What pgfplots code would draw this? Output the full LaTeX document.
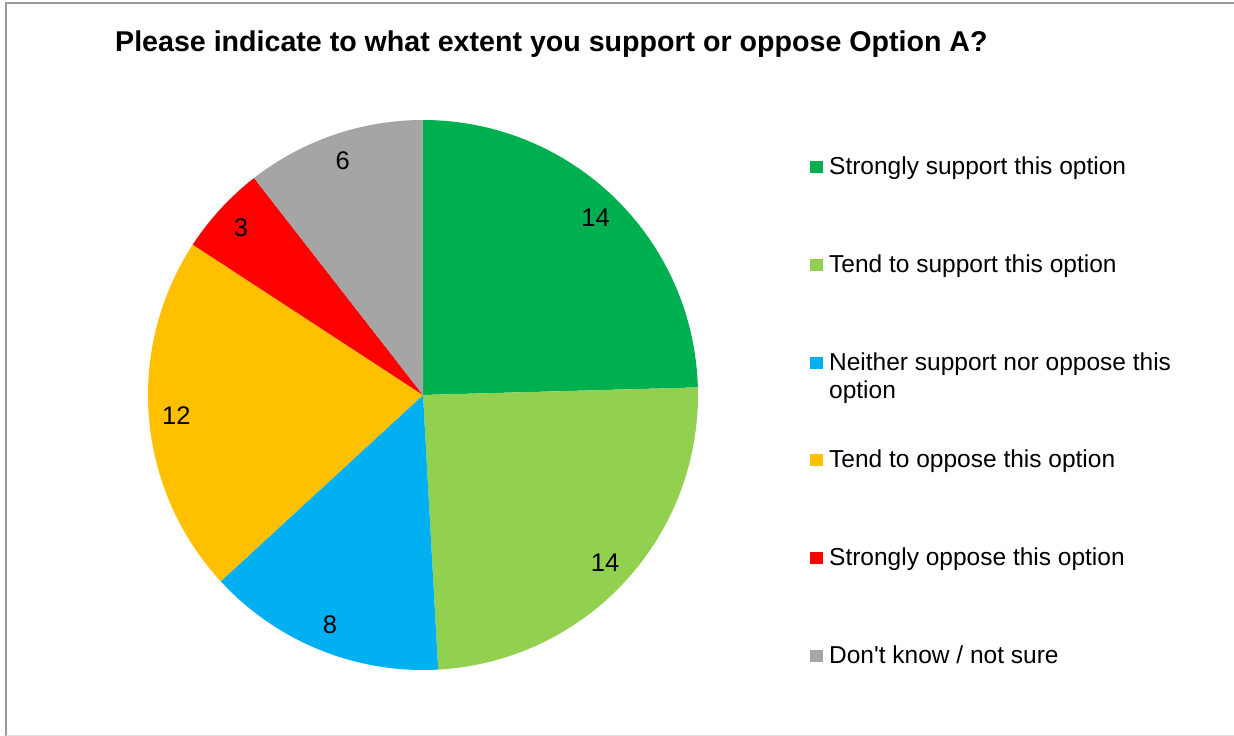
\documentclass[border=0pt]{standalone}
\usepackage{pgfplots}
\usepackage{pgfplotstable}
\pgfplotsset{compat=1.18}
\usepackage{fontspec}
\setmainfont{Liberation Sans}[Ligatures=TeXOff]

\definecolor{cSS}{HTML}{00B050}
\definecolor{cTS}{HTML}{92D050}
\definecolor{cN}{HTML}{00B0F0}
\definecolor{cTO}{HTML}{FFC000}
\definecolor{cSO}{HTML}{FF0000}
\definecolor{cDK}{HTML}{A5A5A5}

\pgfplotstableread{
value
14
14
8
12
3
6
}\piedata

% totals and angles (start at 12 o'clock, clockwise)
\def\total{0}
\pgfplotsforeachungrouped \i in {0,...,5}{%
  \pgfplotstablegetelem{\i}{value}\of\piedata
  \pgfmathsetmacro\total{\total+\pgfplotsretval}%
}
\def\start{90}
\pgfplotsforeachungrouped \i in {0,...,5}{%
  \pgfplotstablegetelem{\i}{value}\of\piedata
  \expandafter\let\csname v\i\endcsname\pgfplotsretval
  \pgfmathsetmacro\stop{\start-\pgfplotsretval/\total*360}%
  \pgfmathsetmacro\mid{(\start+\stop)/2}%
  \expandafter\let\csname a\i\endcsname\start
  \expandafter\let\csname b\i\endcsname\stop
  \expandafter\let\csname m\i\endcsname\mid
  \let\start\stop
}
\newcommand\slice[2]{%
  \edef\temp{\noexpand\addplot[fill=#2, draw=none, domain=\csname b#1\endcsname:\csname a#1\endcsname, samples=120, variable=\noexpand\t] ({cos(\noexpand\t)},{sin(\noexpand\t)}) -- (axis cs:0,0) -- cycle;}%
  \temp
}
\newcommand\plabel[1]{%
  \edef\temp{\noexpand\node[font=\noexpand\fontsize{25.5bp}{29bp}\noexpand\selectfont, inner sep=0pt] at (axis cs:{0.9*cos(\csname m#1\endcsname)},{0.9*sin(\csname m#1\endcsname)}) {\csname v#1\endcsname};}%
  \temp
}

\begin{document}
\begin{tikzpicture}
\draw[gray!80, line width=1.6bp] (1234bp,733bp) -- (5.8bp,733bp) -- (5.8bp,0bp);
\draw[gray!25, line width=1bp] (5.8bp,1bp) -- (1234bp,1bp);
\node[anchor=base west, font=\bfseries\fontsize{28.6bp}{32bp}\selectfont, inner sep=0pt] at (115bp,684.3bp) {Please indicate to what extent you support or oppose Option A?};
\begin{axis}[
  at={(423bp,341bp)}, anchor=center,
  width=550bp, height=550bp, scale only axis,
  xmin=-1, xmax=1, ymin=-1, ymax=1,
  hide axis,
  legend cell align=left,
  legend image code/.code={\fill[#1] (0bp,-4.5bp) rectangle (12.5bp,7.5bp);},
  legend style={
    at={(rel axis cs:1.2036,0.9345)}, anchor=north west,
    draw=none, fill=none, inner sep=0pt,
    row sep=73.9bp, column sep=6.5bp,
    font=\fontsize{24.5bp}{28bp}\selectfont,
    nodes={text height=18bp, text depth=6bp, inner sep=0pt},
  },
]
\slice{0}{cSS}\addlegendentry{Strongly support this option}
\slice{1}{cTS}\addlegendentry{Tend to support this option}
\slice{2}{cN}\addlegendentry{\parbox[t]{400bp}{Neither support nor oppose this\\option}}
\slice{3}{cTO}\addlegendentry{Tend to oppose this option}
\slice{4}{cSO}\addlegendentry{Strongly oppose this option}
\slice{5}{cDK}\addlegendentry{Don't know / not sure}
\plabel{0}\plabel{1}\plabel{2}\plabel{3}\plabel{4}\plabel{5}
\end{axis}
\pgfresetboundingbox
\useasboundingbox (0,0) rectangle (1234bp,736bp);
\end{tikzpicture}
\end{document}
